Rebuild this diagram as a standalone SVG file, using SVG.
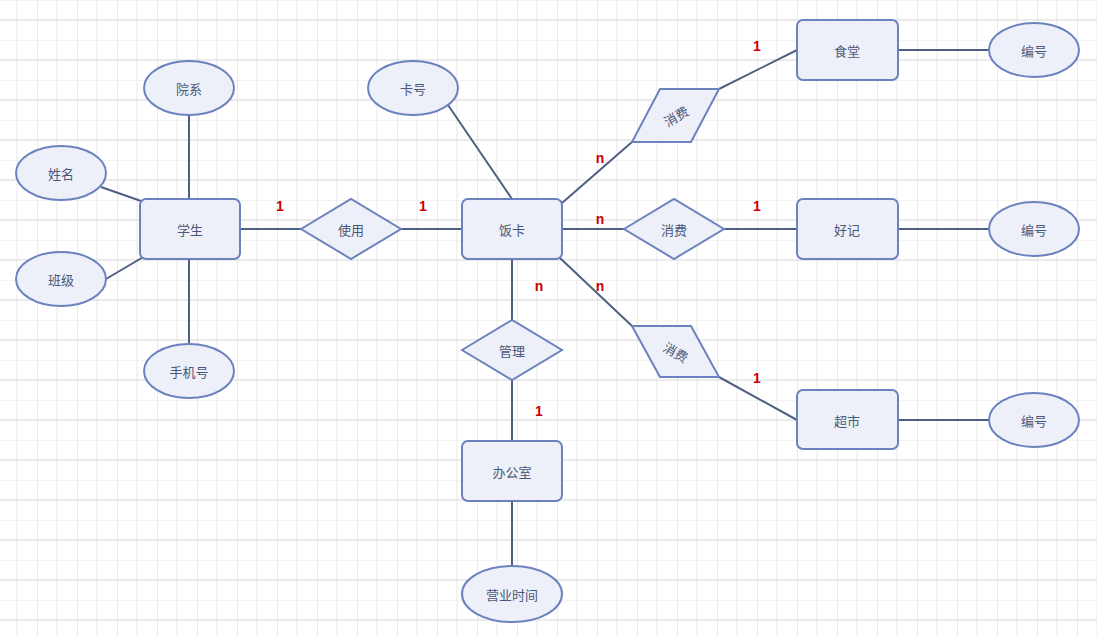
<svg xmlns="http://www.w3.org/2000/svg" width="1097" height="636" viewBox="0 0 1097 636">
<defs>
<pattern id="g" x="-3" y="0" width="40" height="40" patternUnits="userSpaceOnUse">
<path d="M20 0V40M0 0H40" stroke="#e8e8e8" stroke-width="1" fill="none"/>
<path d="M0 0V40M0 20H40" stroke="#d6d6d6" stroke-width="1" fill="none"/>
</pattern>
<style>
.n{fill:#edf0f8;stroke:#6c82bf;stroke-width:2}
.t{font-family:"Noto Sans CJK SC","Noto Sans",sans-serif;font-size:13px;fill:#4a5878;text-anchor:middle;dominant-baseline:central}
.e line{stroke:#4f5f82;stroke-width:2}
.l{font-family:"Liberation Sans",Arial,sans-serif;font-size:14px;font-weight:bold;fill:#cc0000;text-anchor:middle}
</style>
</defs>
<rect width="1097" height="636" fill="#ffffff"/>
<rect width="1097" height="636" fill="url(#g)"/>
<g class="e" id="connectors">
<line x1="240" y1="229" x2="301" y2="229"/>
<line x1="401" y1="229" x2="462" y2="229"/>
<line x1="189" y1="115" x2="189" y2="199"/>
<line x1="101" y1="187" x2="141" y2="201"/>
<line x1="106" y1="279" x2="145" y2="256"/>
<line x1="189" y1="259" x2="189" y2="344"/>
<line x1="448" y1="105" x2="512" y2="199"/>
<line x1="512" y1="259" x2="512" y2="320"/>
<line x1="512" y1="380" x2="512" y2="441"/>
<line x1="512" y1="501" x2="512" y2="566"/>
<line x1="562" y1="203" x2="632" y2="142"/>
<line x1="719" y1="89" x2="797" y2="50"/>
<line x1="562" y1="229" x2="624" y2="229"/>
<line x1="724" y1="229" x2="797" y2="229"/>
<line x1="560" y1="258" x2="632" y2="326"/>
<line x1="719" y1="377" x2="797" y2="420"/>
<line x1="898" y1="50" x2="989" y2="50"/>
<line x1="898" y1="229" x2="989" y2="229"/>
<line x1="898" y1="420" x2="989" y2="420"/>
</g>
<g id="student"><rect class="n" x="140" y="199" width="100" height="60" rx="6"/><text class="t" x="190" y="229">学生</text></g>
<g id="use"><polygon class="n" points="301,229 351,199 401,229 351,259"/><text class="t" x="351" y="229">使用</text></g>
<g id="card"><rect class="n" x="462" y="199" width="100" height="60" rx="6"/><text class="t" x="512" y="229">饭卡</text></g>
<g id="cardno"><ellipse class="n" cx="413" cy="88" rx="45" ry="27"/><text class="t" x="413" y="88">卡号</text></g>
<g id="dept"><ellipse class="n" cx="189" cy="88" rx="45" ry="27"/><text class="t" x="189" y="88">院系</text></g>
<g id="name"><ellipse class="n" cx="61" cy="173" rx="45" ry="27"/><text class="t" x="61" y="173">姓名</text></g>
<g id="class"><ellipse class="n" cx="61" cy="279" rx="45" ry="27"/><text class="t" x="61" y="279">班级</text></g>
<g id="phone"><ellipse class="n" cx="189" cy="371" rx="45" ry="27"/><text class="t" x="189" y="371">手机号</text></g>
<g id="manage"><polygon class="n" points="462,350 512,320 562,350 512,380"/><text class="t" x="512" y="350">管理</text></g>
<g id="office"><rect class="n" x="462" y="441" width="100" height="60" rx="6"/><text class="t" x="512" y="471">办公室</text></g>
<g id="hours"><ellipse class="n" cx="512" cy="594" rx="50" ry="28"/><text class="t" x="512" y="594">营业时间</text></g>
<g id="consume1"><polygon class="n" points="660,89 719,89 691,142 632,142"/><text class="t" x="676" y="116" transform="rotate(-30 676 116)">消费</text></g>
<g id="consume2"><polygon class="n" points="624,229 674,199 724,229 674,259"/><text class="t" x="674" y="229">消费</text></g>
<g id="consume3"><polygon class="n" points="632,326 691,326 719,377 660,377"/><text class="t" x="676" y="352" transform="rotate(30 676 352)">消费</text></g>
<g id="canteen"><rect class="n" x="797" y="20" width="101" height="60" rx="6"/><text class="t" x="847" y="50">食堂</text></g>
<g id="haoji"><rect class="n" x="797" y="199" width="101" height="60" rx="6"/><text class="t" x="847" y="229">好记</text></g>
<g id="market"><rect class="n" x="797" y="390" width="101" height="59" rx="6"/><text class="t" x="847" y="420">超市</text></g>
<g id="no1"><ellipse class="n" cx="1034" cy="50" rx="45" ry="27"/><text class="t" x="1034" y="50">编号</text></g>
<g id="no2"><ellipse class="n" cx="1034" cy="229" rx="45" ry="27"/><text class="t" x="1034" y="229">编号</text></g>
<g id="no3"><ellipse class="n" cx="1034" cy="420" rx="45" ry="27"/><text class="t" x="1034" y="420">编号</text></g>
<g id="labels">
<text class="l" x="280" y="211">1</text>
<text class="l" x="423" y="211">1</text>
<text class="l" x="600" y="163">n</text>
<text class="l" x="757" y="51">1</text>
<text class="l" x="600" y="224">n</text>
<text class="l" x="757" y="211">1</text>
<text class="l" x="539" y="291">n</text>
<text class="l" x="600" y="291">n</text>
<text class="l" x="757" y="383">1</text>
<text class="l" x="539" y="416">1</text>
</g>
</svg>
